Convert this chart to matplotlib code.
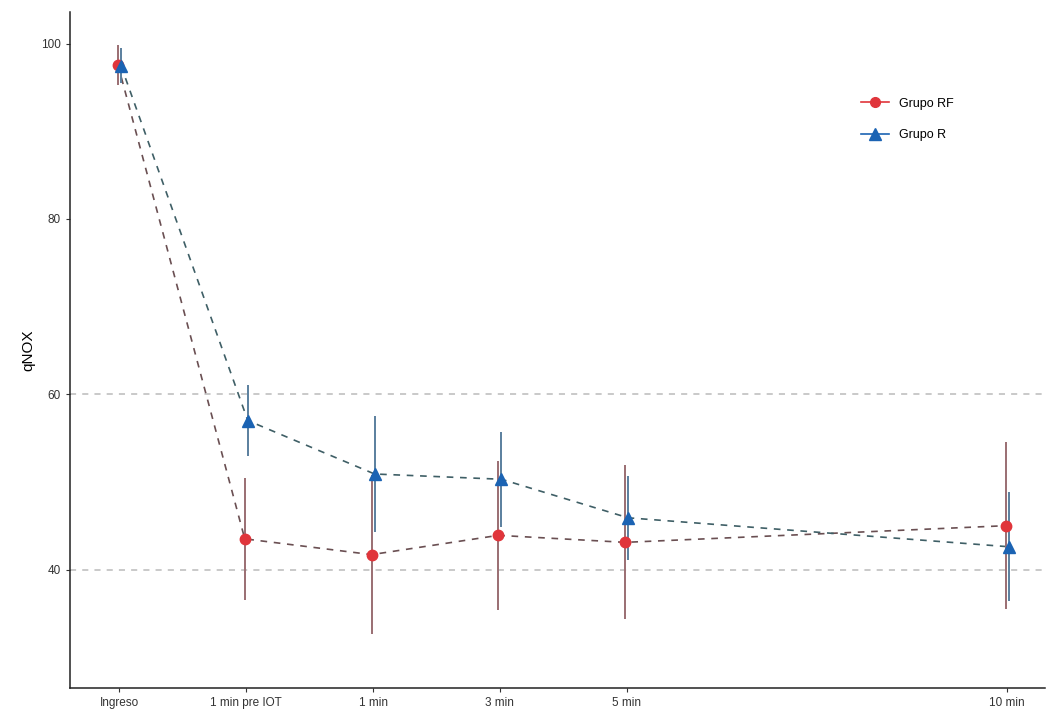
import matplotlib.pyplot as plt
import numpy as np

plt.rcParams['font.family'] = ['Liberation Sans', 'DejaVu Sans']

labels = ['Ingreso', '1 min pre IOT', '1 min', '3 min', '5 min', '10 min']
xpos = [0, 1, 2, 3, 4, 7]

rf_mean = [97.6, 43.5, 41.7, 43.9, 43.1, 45.0]
rf_err = [2.3, 7.0, 9.1, 8.5, 8.8, 9.5]
r_mean = [97.5, 57.0, 50.9, 50.3, 45.9, 42.6]
r_err = [2.0, 4.1, 6.6, 5.4, 4.8, 6.2]

red = '#e0353b'
blue = '#1b63b3'

fig = plt.figure(figsize=(10.53, 7.15), dpi=100)
ax = fig.add_axes([0.0665, 0.038, 0.926, 0.945])

for yl in [40, 60]:
    ax.axhline(yl, color='#bbbbbb', ls=(0, (4, 4)), lw=1.1, zorder=0)

x = np.array(xpos, dtype=float)
d = 0.012
# connecting lines (dark, dashed)
ax.plot(x - d, rf_mean, color='#6a4f52', ls=(0, (4, 4)), lw=1.2, zorder=2)
ax.plot(x + d, r_mean, color='#3f5f66', ls=(0, (4, 4)), lw=1.2, zorder=2)
# error bars + points
ax.errorbar(x - d, rf_mean, yerr=rf_err, fmt='none', ecolor='#9a6e72', elinewidth=1.4, zorder=3)
ax.errorbar(x + d, r_mean, yerr=r_err, fmt='none', ecolor='#5a7f9e', elinewidth=1.4, zorder=3)
ax.plot(x - d, rf_mean, 'o', color=red, ms=7.5, zorder=4)
ax.plot(x + d, r_mean, '^', color=blue, ms=8.5, zorder=4)

# legend handles
ax.plot([], [], marker='o', color=red, ms=7, lw=1.2, label='Grupo RF')
ax.plot([], [], marker='^', color=blue, ms=8, lw=1.2, label='Grupo R')

ax.set_xlim(-0.39, 7.3)
ax.set_ylim(26.5, 103.6)
ax.set_xticks(xpos)
ax.set_xticklabels(labels)
ax.set_yticks([40, 60, 80, 100])
ax.tick_params(labelsize=8.5, colors='#333333', length=3, width=0.8)
ax.set_ylabel('qNOX', fontsize=11)

for s in ['top', 'right']:
    ax.spines[s].set_visible(False)
for s in ['left', 'bottom']:
    ax.spines[s].set_linewidth(1.1)
    ax.spines[s].set_color('#222222')

leg = ax.legend(loc='upper left', bbox_to_anchor=(0.8, 0.89), frameon=False, fontsize=9,
                handlelength=2.2, labelspacing=1.55)

fig.savefig('out.png', dpi=100)
